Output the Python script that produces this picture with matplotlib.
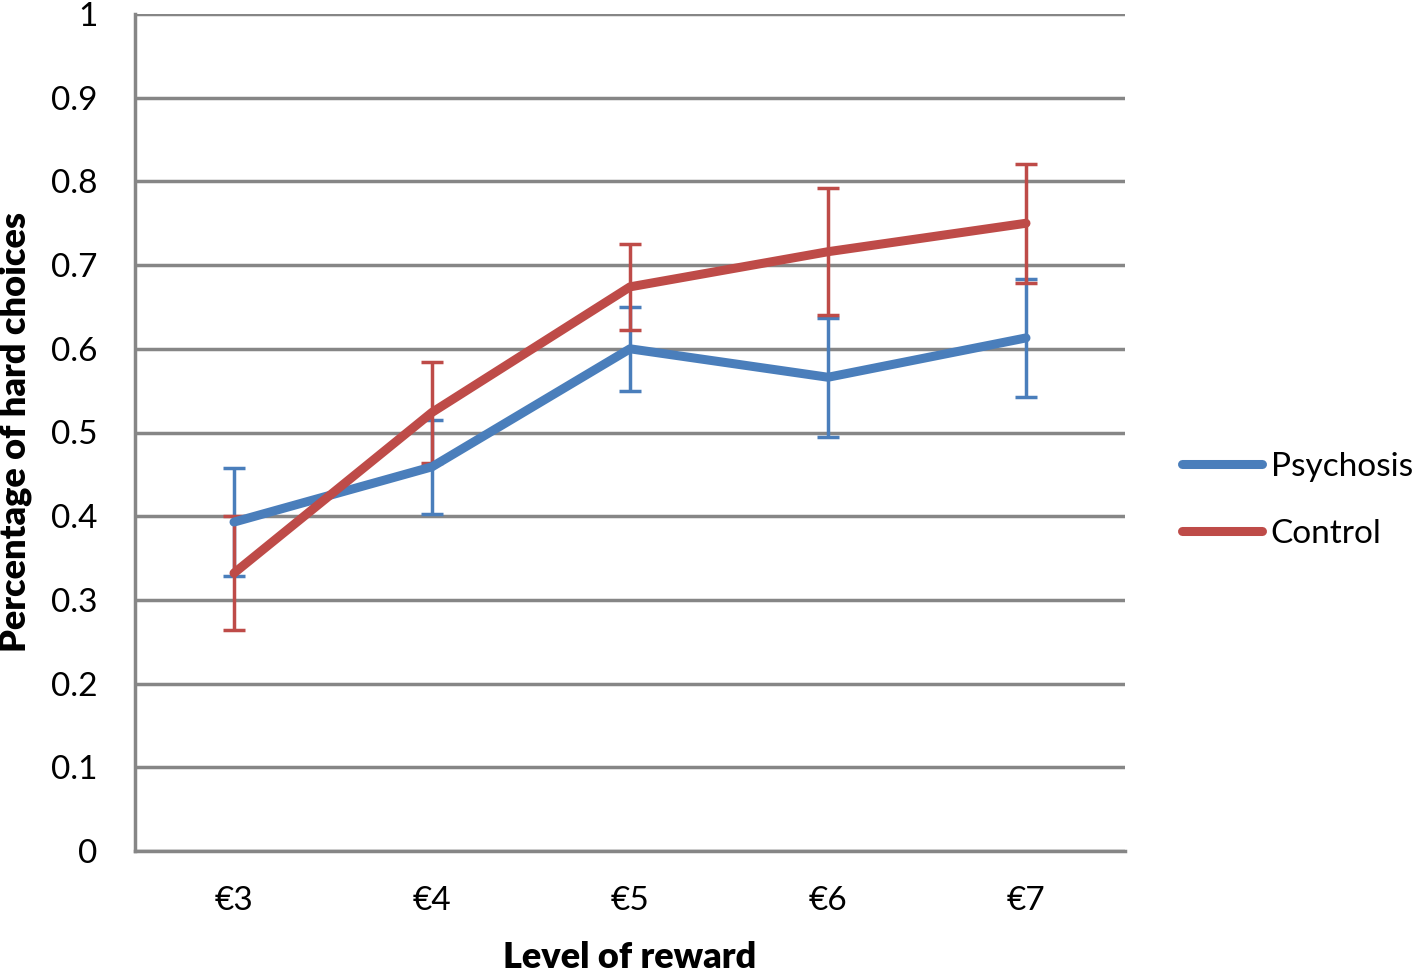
import matplotlib
matplotlib.use("Agg")
import matplotlib.pyplot as plt
import numpy as np

# data
rewards = ['€3', '€4', '€5', '€6', '€7']
psychosis = [0.393, 0.459, 0.600, 0.566, 0.613]
psychosis_err = [0.065, 0.056, 0.050, 0.071, 0.070]
control = [0.332, 0.524, 0.674, 0.716, 0.750]
control_err = [0.068, 0.060, 0.051, 0.076, 0.071]

plt.rcParams['font.family'] = ['Lato', 'DejaVu Sans']

blue = '#4a7ebb'
red = '#be4b48'
grey = '#868686'

fig = plt.figure(figsize=(14.17, 9.73), dpi=100)
ax = fig.add_axes([135/1417, 1 - 851/973, 990/1417, 837/973])

x = np.arange(len(rewards))

# error bars under the lines
ax.errorbar(x, psychosis, yerr=psychosis_err, fmt='none', ecolor=blue,
            elinewidth=2.5, capsize=8, capthick=2.5, zorder=3)
ax.errorbar(x, control, yerr=control_err, fmt='none', ecolor=red,
            elinewidth=2.5, capsize=8, capthick=2.5, zorder=3)

ax.plot(x, psychosis, color=blue, lw=6.5, solid_capstyle='round',
        solid_joinstyle='round', label='Psychosis', zorder=4)
ax.plot(x, control, color=red, lw=6.5, solid_capstyle='round',
        solid_joinstyle='round', label='Control', zorder=4)

ax.set_xlim(-0.5, len(rewards) - 0.5)
ax.set_ylim(0, 1)
ax.set_yticks(np.arange(0, 1.01, 0.1))
ax.set_yticklabels(['0'] + ['%.1f' % v for v in np.arange(0.1, 0.95, 0.1)] + ['1'])
ax.set_xticks(x)
ax.set_xticklabels(rewards)

ax.grid(axis='y', color=grey, lw=2.5, zorder=1)
ax.set_axisbelow(True)
for s in ['top', 'right']:
    ax.spines[s].set_visible(False)
for s in ['left', 'bottom']:
    ax.spines[s].set_color(grey)
    ax.spines[s].set_linewidth(2.5)

ax.tick_params(axis='both', length=0, labelsize=24)
ax.tick_params(axis='y', pad=27)
ax.tick_params(axis='x', pad=25)

ax.set_xlabel('Level of reward', fontsize=26, fontweight='heavy')
ax.set_ylabel('Percentage of hard choices', fontsize=26, fontweight='heavy')
ax.xaxis.set_label_coords(0.5, -0.107)
ax.yaxis.set_label_coords(-0.104, 0.5)

leg = ax.legend(loc='center left', bbox_to_anchor=(1.058, 0.419), frameon=False,
                fontsize=24, handlelength=2.4, handletextpad=0.25,
                labelspacing=1.1, borderpad=0, borderaxespad=0)

fig.savefig('out.png', dpi=100)
